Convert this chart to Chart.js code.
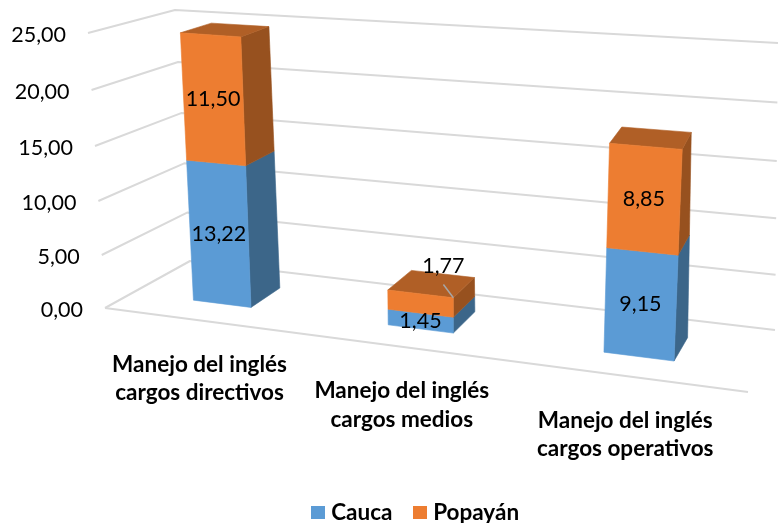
<!DOCTYPE html>
<html><head><meta charset="utf-8">
<style>html,body{margin:0;padding:0;background:#fff}#w{width:778px;height:523px}</style>
<script src="https://cdn.jsdelivr.net/npm/chart.js@4/dist/chart.umd.js"></script>
</head><body><div id="w"><canvas id="c" width="778" height="523"></canvas></div>
<script>
const categories = [["Manejo del inglés","cargos directivos"],["Manejo del inglés","cargos medios"],["Manejo del inglés","cargos operativos"]];
const cauca = [13.22, 1.45, 9.15];
const popayan = [11.50, 1.77, 8.85];
const seriesNames = ["Cauca", "Popayán"];
const FONT = 'Lato, Carlito, sans-serif';

// perspective box of the plot (style only): floor corners and offset of the 25,00 plane
const floorC = {FL:[105,308],FR:[748,392],BL:[190,261],BR:[775,330]};
const upC = {FL:[-17,-275],FR:[22,-310],BL:[-15,-251],BR:[3,-287]};
const FACE = [
  {front:'#5B9BD5',side:'#3C6689',top:'#3C6689'},
  {front:'#ED7D31',side:'#97511F',top:'#B05F26'}
];
const DEPTH = [0.33,0.72];
const labelShift = [[null,null,null],[null,[23,-37],null]];
const categoryDx = [3,0.5,-1];

function bil(c,u,v,i){return c.FL[i]*(1-u)*(1-v)+c.FR[i]*u*(1-v)+c.BL[i]*(1-u)*v+c.BR[i]*u*v;}
function warpU(t){return 0.802*t+0.2655*t*t-0.0765*t*t*t+0.009*Math.pow(t,16)+0.012*t*(1-t);}
function warpH(f){return f-0.045*f*(1-f);}
function project(chart,xPix,value,v){
  const a=chart.chartArea, y=chart.scales.y;
  const u=warpU((xPix-a.left)/(a.right-a.left));
  const f=warpH((value-y.min)/(y.max-y.min));
  return [bil(floorC,u,v,0)+bil(upC,u,v,0)*f, bil(floorC,u,v,1)+bil(upC,u,v,1)*f];
}
function poly(ctx,pts,fill){
  ctx.beginPath();pts.forEach((p,i)=>i?ctx.lineTo(p[0],p[1]):ctx.moveTo(p[0],p[1]));ctx.closePath();
  ctx.fillStyle=fill;ctx.fill();ctx.strokeStyle=fill;ctx.lineWidth=0.6;ctx.stroke();
}
const fmt=v=>v.toFixed(2).replace('.',',');
function swatch(color){
  const s=document.createElement('canvas');s.width=14;s.height=13;
  const g=s.getContext('2d');g.fillStyle=color;g.fillRect(0,0,14,13);
  return s;
}

const box3d={
  id:'box3d',
  beforeDatasetsDraw(chart){
    const ctx=chart.ctx,a=chart.chartArea,ys=chart.scales.y;
    ctx.save();
    // walls and floor
    ctx.strokeStyle='#D9D9D9';ctx.lineWidth=2;ctx.lineJoin='round';
    ys.ticks.forEach(t=>{
      const p0=project(chart,a.left,t.value,0),p1=project(chart,a.left,t.value,1),p2=project(chart,a.right,t.value,1);
      ctx.beginPath();ctx.moveTo(p0[0],p0[1]);ctx.lineTo(p1[0],p1[1]);ctx.lineTo(p2[0],p2[1]);ctx.stroke();
    });
    const f0=project(chart,a.left,0,0),f1=project(chart,a.right,0,0);
    ctx.beginPath();ctx.moveTo(f0[0],f0[1]);ctx.lineTo(f1[0],f1[1]);ctx.stroke();
    // value-axis labels follow the wall edge
    ctx.fillStyle='#000';ctx.font='21.5px '+FONT;ctx.textAlign='right';ctx.textBaseline='middle';
    ys.ticks.forEach(t=>{
      const p=project(chart,a.left,t.value,0);
      ctx.fillText(fmt(t.value),p[0]-22,p[1]+2);
    });
    // category labels follow the front floor edge
    ctx.font='bold 22.5px '+FONT;ctx.textAlign='center';
    const m0=chart.getDatasetMeta(0);
    categories.forEach((lines,j)=>{
      const p=project(chart,m0.data[j].x,0,0);
      lines.forEach((s,k)=>ctx.fillText(s,p[0]+categoryDx[j],p[1]+44.5+k*28.5));
    });
    // bars
    const labels=[];
    categories.forEach((_,j)=>{
      chart.data.datasets.forEach((ds,d)=>{
        const el=chart.getDatasetMeta(d).data[j];
        const xl=el.x-el.width/2,xr=el.x+el.width/2;
        const lo=ys.getValueForPixel(el.base),hi=ys.getValueForPixel(el.y);
        const P=(x,val,v)=>project(chart,x,val,v);
        const [vf,vb]=DEPTH,c=FACE[d];
        poly(ctx,[P(xr,lo,vf),P(xr,lo,vb),P(xr,hi,vb),P(xr,hi,vf)],c.side);
        if(d===chart.data.datasets.length-1)
          poly(ctx,[P(xl,hi,vf),P(xr,hi,vf),P(xr,hi,vb),P(xl,hi,vb)],c.top);
        poly(ctx,[P(xl,lo,vf),P(xr,lo,vf),P(xr,hi,vf),P(xl,hi,vf)],c.front);
        const mid=P(el.x,(lo+hi)/2,vf);
        labels.push({text:fmt(ds.data[j]),p:mid,shift:labelShift[d][j],anchor:P(xr,hi,vf)});
      });
    });
    // data labels
    ctx.font='21.5px '+FONT;ctx.textAlign='center';ctx.textBaseline='middle';
    labels.forEach(l=>{
      let x=l.p[0],y=l.p[1];
      if(l.shift){
        x+=l.shift[0];y+=l.shift[1];
        ctx.strokeStyle='#A6A6A6';ctx.lineWidth=1.5;
        ctx.beginPath();ctx.moveTo(x,y+18);ctx.lineTo(l.anchor[0],l.anchor[1]);ctx.stroke();
      }
      ctx.fillStyle='#000';ctx.fillText(l.text,x,y);
    });
    ctx.restore();
    return false;
  }
};

new Chart(document.getElementById('c'),{
  type:'bar',
  data:{labels:categories,datasets:[
    {label:seriesNames[0],data:cauca,backgroundColor:FACE[0].front},
    {label:seriesNames[1],data:popayan,backgroundColor:FACE[1].front}
  ]},
  options:{
    responsive:false,animation:false,events:[],
    barPercentage:0.31,categoryPercentage:1,
    layout:{padding:{left:88,right:30,top:33,bottom:-11}},
    scales:{
      x:{stacked:true,grid:{display:false},border:{display:false},ticks:{display:false},
         afterFit(s){s.height=150;}},
      y:{stacked:true,min:0,max:25,grid:{display:false},border:{display:false},
         ticks:{display:false,stepSize:5},afterFit(s){s.width=17;}}
    },
    plugins:{
      tooltip:{enabled:false},
      legend:{position:'bottom',labels:{usePointStyle:true,pointStyleWidth:3,boxHeight:13,padding:26.5,color:'#000',
        font:{family:FONT,size:22.5,weight:'bold'},
        generateLabels(chart){
          return Chart.defaults.plugins.legend.labels.generateLabels(chart).map((it,i)=>{
            it.pointStyle=swatch(FACE[i].front);return it;});
        }}}
    }
  },
  plugins:[box3d]
});
</script></body></html>
